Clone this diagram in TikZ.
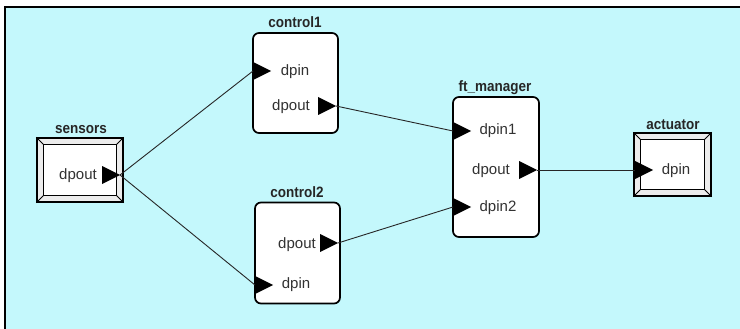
\documentclass[tikz,border=0pt]{standalone}
\usepackage{fontspec}
\setmainfont{Liberation Sans}
\usetikzlibrary{shapes.geometric}
\definecolor{bgcyan}{RGB}{196,248,252}
\definecolor{labelgray}{RGB}{50,50,50}
\definecolor{framegray}{RGB}{236,236,236}
\tikzset{
  block/.style={draw=black, line width=1.7pt, fill=white, rounded corners=6pt,
    minimum width=85pt, inner sep=0pt},
  device/.style={draw=black, line width=1.4pt, fill=framegray,
    inner sep=0pt},
  title/.style={font=\fontsize{15}{15}\bfseries, text=black!85, inner sep=0pt,
    xscale=0.9},
  lbl/.style={font=\fontsize{15}{15}\selectfont, text=labelgray, inner sep=0pt},
  port/.style={isosceles triangle, isosceles triangle stretches, fill=black,
    draw=none, inner sep=0pt, outer sep=0pt, minimum width=18pt, minimum height=18pt,
    shape border rotate=0},
  inport/.style={port, anchor=west},
  outport/.style={port, anchor=apex},
  wire/.style={draw=black!85, line width=0.9pt}
}
\begin{document}
\begin{tikzpicture}[x=1pt,y=-1pt]
\useasboundingbox (0,0) rectangle (740,329);
% canvas
\fill[white] (0,0) rectangle (740,329);
\fill[bgcyan] (5,7) rectangle (740,329);
\draw[line width=2.4pt] (5,329) -- (5,7) -- (740,7);

% sensors device (bevelled double frame)
\node[device, minimum width=86pt, minimum height=64pt] (sens) at (80,170) {};
\fill[white] ([shift={(7,7)}]sens.north west) rectangle ([shift={(-7,-7)}]sens.south east);
\draw[line width=1.4pt] ([shift={(7,7)}]sens.north west) rectangle ([shift={(-7,-7)}]sens.south east);
\draw[line width=1pt] (sens.north west) -- ++(7,7) (sens.north east) -- ++(-7,7)
  (sens.south west) -- ++(7,-7) (sens.south east) -- ++(-7,-7);
\node[title] (senst) at (81,130) {sensors};
\node[lbl] (sensout) at (78,176) {dpout};
\node[outport] (sensp) at (120,175) {};

% actuator device (bevelled double frame)
\node[device, minimum width=77pt, minimum height=63pt] (act) at (672.5,164.5) {};
\fill[white] ([shift={(7,7)}]act.north west) rectangle ([shift={(-7,-7)}]act.south east);
\draw[line width=1.4pt] ([shift={(7,7)}]act.north west) rectangle ([shift={(-7,-7)}]act.south east);
\draw[line width=1pt] (act.north west) -- ++(7,7) (act.north east) -- ++(-7,7)
  (act.south west) -- ++(7,-7) (act.south east) -- ++(-7,-7);
\node[title] (actt) at (673,125) {actuator};
\node[lbl] (actin) at (676,171) {dpin};
\node[inport] (actp) at (635,170) {};

% control1
\node[block, minimum height=100pt] (c1) at (295.5,83) {};
\node[title] (c1t) at (295,22) {control1};
\node[lbl] (c1in) at (295,72) {dpin};
\node[lbl] (c1out) at (291,107) {dpout};
\node[inport] (c1pi) at (253,71) {};
\node[outport] (c1po) at (336,106) {};

% control2
\node[block, minimum height=101pt] (c2) at (297.5,253) {};
\node[title] (c2t) at (297,192) {control2};
\node[lbl] (c2out) at (297,245) {dpout};
\node[lbl] (c2in) at (296,285) {dpin};
\node[outport] (c2po) at (338,243) {};
\node[inport] (c2pi) at (255,285) {};

% ft_manager
\node[block, minimum width=86pt, minimum height=140pt] (ft) at (496,167) {};
\node[title] (ftt) at (495,88) {ft\_manager};
\node[lbl] (ftin1) at (498,131) {dpin1};
\node[lbl] (ftout) at (491,171) {dpout};
\node[lbl] (ftin2) at (498,208) {dpin2};
\node[inport] (ftpi1) at (453,131) {};
\node[outport] (ftpo) at (537,170) {};
\node[inport] (ftpi2) at (453,207) {};

% connections
\draw[wire] (sensp.apex) -- (c1pi.west);
\draw[wire] (sensp.apex) -- (c2pi.west);
\draw[wire] (c1po.apex) -- (ftpi1.west);
\draw[wire] (c2po.apex) -- (ftpi2.west);
\draw[wire] (ftpo.apex) -- (actp.west);
\end{tikzpicture}
\end{document}
